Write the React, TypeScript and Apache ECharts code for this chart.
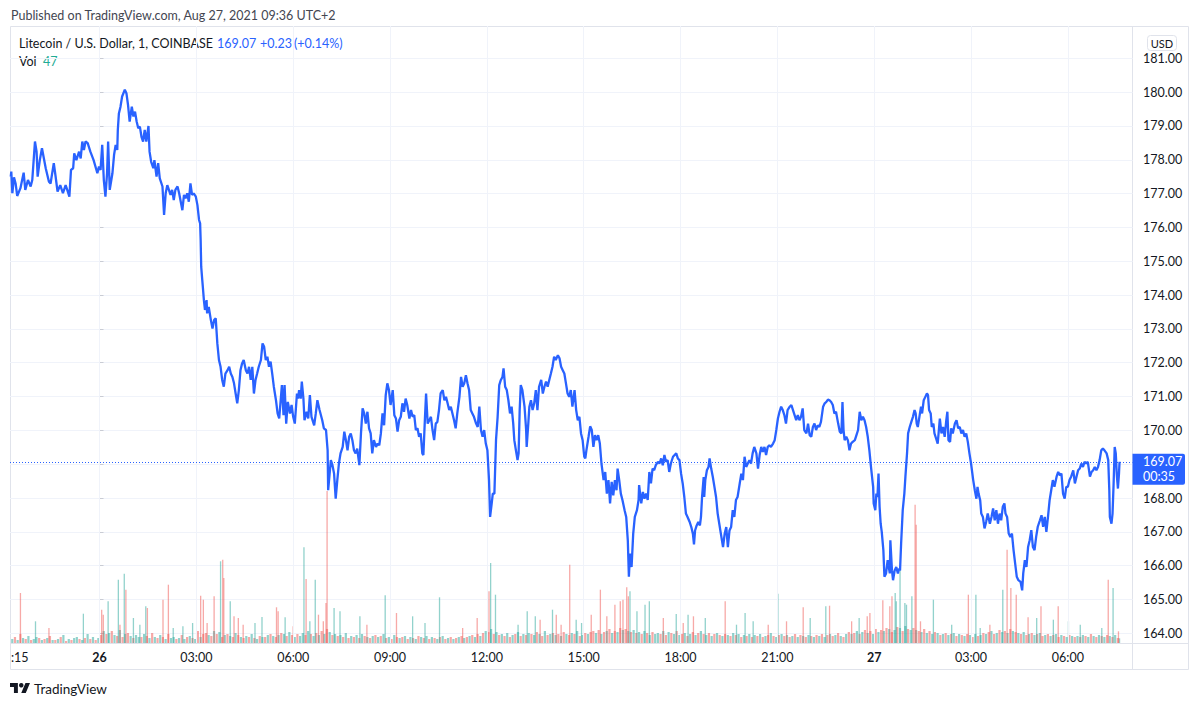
import React, { useEffect, useRef } from "react";
import * as echarts from "echarts";

const FONT = "Lato, 'Noto Sans', sans-serif";

// Litecoin / USD, 1-minute closes. [minutes from 26 Aug 00:00 UTC, price in USD]
const pricePoints: [number, number][] = [
  [-165, 177.5], [-164, 177.65], [-162, 177.01], [-159, 177.48], [-156, 177.3], [-153, 176.93], [-147, 177.16], [-141, 177.62],
  [-138, 177.11], [-133, 177.4], [-128, 177.21], [-125, 177.4], [-120, 178.54], [-117, 178.24], [-115, 177.5], [-111, 177.99],
  [-107, 178.34], [-100, 177.75], [-94, 177.35], [-91, 177.3], [-85, 177.9], [-82, 177.55], [-78, 177.06], [-73, 177.25],
  [-68, 177.01], [-63, 177.25], [-60, 177.11], [-56, 176.91], [-53, 177.7], [-49, 177.75], [-47, 178.19], [-43, 177.99],
  [-38, 178.24], [-35, 178.04], [-32, 178.54], [-29, 178.29], [-26, 178.54], [-22, 178.49], [-17, 178.24], [-11, 177.99],
  [-4, 177.6], [-1, 177.8], [2, 177.7], [5, 178.44], [8, 177.4], [11, 176.91], [14, 177.6], [16, 178.54],
  [19, 177.11], [24, 177.6], [27, 178.14], [30, 178.44], [33, 178.29], [34, 178.88], [36, 179.37], [39, 179.57],
  [42, 179.87], [47, 180.07], [50, 179.97], [53, 179.62], [56, 179.13], [60, 179.57], [63, 179.28], [66, 179.42],
  [69, 179.13], [72, 178.93], [75, 178.98], [78, 178.68], [81, 178.54], [84, 178.88], [87, 178.54], [91, 179.0],
  [93, 178.24], [96, 177.94], [100, 177.75], [102, 177.99], [106, 177.5], [109, 177.9], [112, 177.45], [117, 177.21],
  [120, 176.37], [123, 177.01], [126, 177.25], [129, 177.11], [132, 176.96], [135, 177.11], [138, 176.81], [141, 177.11],
  [145, 177.21], [148, 177.01], [154, 176.51], [157, 176.96], [160, 176.86], [163, 177.01], [166, 176.76], [169, 177.3],
  [172, 176.96], [175, 177.01], [179, 176.91], [182, 176.66], [185, 176.22], [187, 176.12], [188, 175.63], [189, 174.84],
  [191, 174.44], [192, 174.25], [194, 173.85], [196, 173.56], [199, 173.85], [200, 173.46], [203, 173.65], [207, 173.26],
  [210, 173.01], [213, 173.26], [216, 173.31], [219, 172.57], [222, 172.08], [225, 171.88], [228, 171.49], [231, 171.29],
  [234, 171.68], [238, 171.78], [241, 171.88], [244, 171.68], [247, 171.58], [250, 171.39], [253, 171.09], [256, 170.8],
  [259, 171.19], [262, 171.78], [265, 171.98], [268, 172.08], [272, 171.78], [275, 171.68], [278, 171.88], [281, 171.49],
  [284, 171.88], [287, 171.09], [290, 171.49], [293, 171.68], [296, 171.88], [300, 172.08], [303, 172.57], [306, 172.47],
  [309, 172.08], [312, 172.18], [315, 171.88], [318, 172.03], [321, 171.68], [324, 171.29], [328, 170.89], [331, 170.5],
  [334, 170.35], [339, 171.34], [342, 170.45], [344, 171.34], [347, 170.2], [350, 170.84], [354, 170.5], [357, 170.75],
  [360, 170.4], [363, 170.2], [367, 171.09], [369, 170.94], [371, 171.19], [374, 170.94], [376, 171.44], [379, 170.94],
  [381, 170.3], [385, 170.55], [388, 170.35], [391, 171.04], [394, 170.4], [399, 170.15], [402, 170.5], [405, 170.89],
  [409, 170.6], [414, 170.3], [417, 170.06], [421, 170.01], [424, 169.41], [425, 168.23], [430, 169.12], [433, 168.97],
  [436, 168.72], [439, 167.98], [442, 168.53], [445, 169.02], [448, 169.32], [452, 169.51], [455, 169.96], [458, 169.71],
  [461, 169.41], [464, 169.81], [467, 169.91], [470, 169.71], [473, 169.41], [476, 169.32], [479, 169.46], [483, 168.97],
  [486, 169.91], [489, 170.65], [492, 170.5], [495, 170.2], [498, 170.55], [501, 170.06], [504, 169.91], [507, 169.32],
  [510, 169.71], [514, 169.51], [517, 169.61], [520, 169.56], [523, 169.91], [526, 170.5], [529, 170.15], [532, 171.04],
  [535, 171.39], [538, 171.19], [541, 170.75], [545, 171.19], [548, 170.45], [551, 170.35], [554, 169.96], [557, 170.3],
  [560, 170.4], [563, 170.8], [566, 170.55], [569, 170.94], [572, 170.75], [576, 170.35], [579, 170.6], [582, 170.4],
  [585, 170.45], [588, 170.01], [591, 170.06], [594, 169.81], [597, 169.91], [600, 169.32], [602, 169.27], [605, 170.4],
  [607, 171.09], [610, 170.2], [613, 170.3], [616, 170.4], [619, 170.01], [622, 169.71], [625, 170.2], [628, 170.25],
  [631, 170.6], [634, 171.09], [638, 171.19], [641, 170.89], [644, 170.99], [647, 170.8], [650, 170.6], [653, 170.7],
  [656, 170.5], [659, 170.3], [662, 170.06], [665, 170.5], [669, 170.99], [672, 171.58], [675, 171.29], [678, 171.39],
  [681, 171.63], [684, 171.39], [687, 171.19], [690, 170.6], [693, 170.5], [696, 170.4], [700, 170.2], [703, 170.1],
  [706, 170.7], [709, 170.01], [712, 169.81], [715, 170.01], [718, 169.61], [721, 169.41], [724, 168.53], [726, 167.44],
  [729, 167.84], [731, 168.13], [734, 168.13], [737, 169.71], [740, 170.4], [743, 171.34], [746, 171.49], [749, 171.58],
  [751, 171.83], [754, 171.29], [757, 171.19], [760, 170.89], [763, 170.5], [766, 170.7], [769, 170.2], [771, 169.71],
  [774, 169.41], [777, 169.12], [779, 169.32], [781, 170.6], [783, 171.34], [786, 171.19], [790, 170.7], [793, 170.01],
  [794, 169.51], [797, 170.2], [799, 170.7], [802, 170.89], [805, 170.6], [808, 170.8], [811, 171.19], [814, 170.6],
  [817, 171.29], [821, 171.49], [824, 171.09], [827, 171.29], [830, 171.44], [833, 171.29], [836, 171.49], [839, 171.68],
  [842, 171.88], [845, 172.18], [848, 172.08], [852, 172.22], [855, 172.13], [858, 171.88], [861, 171.78], [864, 171.68],
  [867, 171.39], [870, 171.09], [873, 170.99], [876, 171.19], [879, 170.7], [883, 171.19], [886, 170.6], [889, 170.3],
  [892, 170.4], [895, 169.91], [898, 169.71], [901, 169.22], [903, 169.17], [905, 169.41], [909, 169.81], [912, 170.12],
  [915, 170.01], [918, 169.51], [921, 169.86], [924, 169.71], [927, 169.86], [930, 169.61], [933, 169.02], [937, 168.53],
  [940, 168.77], [943, 168.13], [946, 168.53], [949, 167.84], [952, 168.48], [955, 168.08], [958, 168.53], [961, 168.23],
  [963, 168.87], [966, 168.53], [969, 168.13], [972, 167.94], [976, 167.64], [979, 167.44], [982, 166.74], [984, 165.67],
  [986, 166.36], [989, 165.96], [992, 166.94], [995, 167.44], [999, 167.64], [1002, 167.94], [1003, 168.38], [1007, 167.84],
  [1010, 168.18], [1013, 167.98], [1016, 168.13], [1019, 167.94], [1022, 168.77], [1025, 168.43], [1028, 168.87], [1031, 168.82],
  [1034, 168.97], [1038, 169.07], [1041, 169.02], [1044, 169.17], [1047, 168.97], [1050, 169.27], [1053, 169.07], [1056, 169.12],
  [1059, 168.77], [1062, 169.02], [1066, 169.22], [1069, 169.27], [1072, 169.32], [1075, 169.17], [1078, 169.12], [1081, 168.72],
  [1084, 168.43], [1087, 168.03], [1090, 167.54], [1093, 167.44], [1097, 167.29], [1100, 167.14], [1103, 166.94], [1105, 166.63],
  [1107, 167.04], [1110, 167.19], [1113, 167.29], [1116, 167.19], [1118, 167.44], [1120, 168.03], [1123, 168.62], [1124, 168.03],
  [1126, 168.53], [1129, 168.82], [1132, 168.92], [1134, 169.17], [1137, 168.87], [1140, 168.62], [1143, 168.33], [1146, 168.03],
  [1149, 167.54], [1152, 167.24], [1155, 166.94], [1159, 166.55], [1162, 166.94], [1165, 167.14], [1168, 166.55], [1171, 167.04],
  [1174, 167.14], [1177, 167.64], [1180, 167.44], [1183, 167.94], [1186, 168.03], [1190, 168.43], [1193, 168.72], [1196, 168.53],
  [1199, 169.22], [1202, 168.92], [1205, 169.02], [1208, 169.12], [1211, 169.02], [1214, 169.32], [1217, 169.51], [1221, 169.32],
  [1224, 168.87], [1227, 169.27], [1230, 169.51], [1233, 169.36], [1236, 169.51], [1239, 169.27], [1242, 169.51], [1245, 169.56],
  [1248, 169.51], [1252, 169.61], [1255, 169.71], [1258, 170.01], [1261, 170.35], [1264, 170.55], [1267, 170.7], [1270, 170.6],
  [1273, 170.45], [1276, 170.2], [1279, 170.6], [1283, 170.7], [1286, 170.75], [1289, 170.6], [1292, 170.45], [1295, 170.3],
  [1298, 170.45], [1301, 170.3], [1304, 170.4], [1307, 170.65], [1310, 170.01], [1314, 169.91], [1317, 170.2], [1320, 169.86],
  [1323, 169.81], [1326, 170.1], [1329, 170.2], [1332, 170.01], [1335, 170.15], [1338, 170.1], [1341, 170.25], [1345, 170.7],
  [1348, 170.8], [1351, 170.84], [1354, 170.91], [1357, 170.89], [1360, 170.84], [1363, 170.75], [1366, 170.5], [1369, 170.55],
  [1373, 170.2], [1376, 169.96], [1379, 169.91], [1381, 170.84], [1383, 170.01], [1385, 169.71], [1388, 169.81], [1391, 169.71],
  [1394, 169.41], [1397, 169.61], [1400, 169.66], [1404, 169.71], [1407, 169.86], [1410, 170.01], [1413, 170.55], [1416, 170.3],
  [1419, 170.4], [1422, 170.3], [1425, 170.1], [1428, 169.81], [1431, 169.41], [1434, 168.92], [1438, 168.33], [1439, 167.84],
  [1442, 167.64], [1444, 168.13], [1446, 168.03], [1448, 168.72], [1450, 167.74], [1452, 167.24], [1454, 167.0], [1457, 166.46],
  [1459, 165.67], [1462, 165.77], [1465, 166.16], [1469, 165.77], [1470, 166.75], [1473, 165.86], [1475, 165.57], [1478, 165.86],
  [1481, 165.96], [1484, 165.77], [1486, 165.91], [1488, 165.86], [1490, 166.65], [1493, 167.64], [1496, 168.13], [1498, 168.63],
  [1501, 169.32], [1503, 169.91], [1506, 170.1], [1509, 170.25], [1512, 170.4], [1515, 170.6], [1517, 170.5], [1519, 170.2],
  [1521, 170.1], [1524, 170.4], [1527, 170.7], [1529, 170.5], [1532, 170.89], [1535, 170.99], [1538, 171.09], [1540, 171.04],
  [1542, 170.6], [1545, 170.5], [1547, 170.1], [1550, 170.2], [1552, 169.91], [1555, 169.76], [1558, 169.61], [1562, 170.35],
  [1565, 169.91], [1568, 170.1], [1571, 169.81], [1574, 170.3], [1576, 170.55], [1578, 169.71], [1581, 169.66], [1583, 170.06],
  [1586, 169.91], [1590, 170.2], [1593, 170.3], [1596, 170.06], [1599, 170.1], [1602, 169.91], [1605, 170.01], [1608, 169.81],
  [1611, 169.91], [1614, 169.66], [1617, 169.32], [1620, 169.02], [1624, 168.53], [1627, 168.23], [1630, 167.98], [1632, 168.33],
  [1634, 168.13], [1637, 167.93], [1639, 167.54], [1642, 167.44], [1645, 167.1], [1648, 167.29], [1651, 167.54], [1655, 167.24],
  [1658, 167.44], [1661, 167.69], [1664, 167.34], [1667, 167.64], [1670, 167.24], [1673, 167.54], [1676, 167.34], [1679, 167.74],
  [1682, 167.84], [1684, 167.54], [1687, 167.44], [1690, 166.95], [1693, 166.85], [1696, 166.95], [1699, 166.46], [1702, 166.06],
  [1705, 165.67], [1708, 165.57], [1712, 165.52], [1715, 165.27], [1717, 165.77], [1720, 166.16], [1723, 165.96], [1726, 166.55],
  [1729, 166.75], [1732, 167.05], [1735, 166.55], [1738, 166.46], [1741, 166.85], [1744, 167.15], [1748, 167.34], [1751, 167.49],
  [1754, 167.15], [1757, 167.44], [1760, 167.0], [1763, 167.44], [1766, 167.93], [1769, 168.23], [1772, 168.53], [1775, 168.33],
  [1779, 168.63], [1782, 168.77], [1785, 168.67], [1788, 168.72], [1791, 168.13], [1794, 167.98], [1797, 168.33], [1800, 168.33],
  [1803, 168.53], [1806, 168.63], [1810, 168.82], [1813, 168.43], [1816, 168.63], [1819, 168.82], [1822, 168.87], [1825, 169.02],
  [1828, 168.92], [1831, 169.07], [1834, 169.02], [1837, 169.07], [1841, 168.63], [1844, 168.77], [1847, 168.82], [1850, 168.92],
  [1853, 168.82], [1856, 168.92], [1859, 169.12], [1862, 169.41], [1865, 169.46], [1868, 169.41], [1872, 169.32], [1875, 169.12],
  [1877, 168.23], [1878, 167.44], [1881, 167.24], [1883, 167.54], [1885, 168.43], [1887, 169.51], [1889, 169.32], [1891, 168.67],
  [1893, 168.28], [1895, 168.72], [1896, 169.07],
];

// Distinct volume bars: [minute, volume]; positive = up bar (teal), negative = down bar (red)
const volumeSpikes: [number, number][] = [
  [-147, -500], [-119, 217], [-94, -150], [-30, 293], [4, -333], [7, -283], [16, 417], [35, 633], [38, -183], [46, 693],
  [49, -533], [63, 250], [75, 183], [86, 367], [89, -350], [118, -433], [128, -583], [137, 150], [155, 167], [173, 200],
  [188, -473], [193, -433], [200, -200], [213, -467], [225, 817], [229, -833], [231, -650], [243, 417], [250, -267], [258, -250],
  [267, -183], [289, 200], [302, 260], [329, -357], [332, -317], [345, 257], [360, -167], [380, 957], [384, -640], [391, 217],
  [401, 633], [407, -283], [416, -217], [421, -400], [423, -1520], [436, 350], [447, 317], [484, 267], [497, -183], [531, 477],
  [552, -300], [582, 267], [605, 200], [632, 457], [675, -150], [702, -250], [724, -517], [727, 800], [736, 483], [778, 183],
  [795, 317], [810, 267], [819, -233], [842, 333], [849, -283], [858, -183], [874, -783], [886, 233], [896, 200], [914, -283],
  [931, -533], [943, -267], [958, -383], [968, -417], [973, -433], [980, -557], [983, -467], [986, 517], [999, 317], [1014, 383],
  [1022, 417], [1048, -250], [1072, 290], [1085, -200], [1094, 283], [1104, -267], [1126, 250], [1163, -417], [1184, 183], [1200, 300],
  [1215, 217], [1243, -183], [1261, 493], [1277, -217], [1308, -357], [1321, 250], [1350, 367], [1357, -373], [1398, -217], [1412, 250],
  [1427, -267], [1432, -300], [1456, -427], [1469, -367], [1473, -467], [1479, 500], [1481, 417], [1488, 733], [1497, 400], [1500, 383],
  [1510, 467], [1516, -1383], [1518, -1183], [1526, -217], [1550, 433], [1584, 183], [1615, -483], [1629, 483], [1637, 150], [1655, -183],
  [1679, 533], [1687, -933], [1694, -550], [1704, -483], [1726, -257], [1742, 250], [1750, -367], [1773, 233], [1782, -367], [1801, 217],
  [1823, 183], [1863, 150], [1875, -633], [1884, 550], [1894, -117], [1896, 47],
];

// Background volume, one bar every 5 minutes from 21:17 (signed as above)
const grassStartMinute = -163;
const grassStepMinutes = 5;
const grassVolumes: number[] = [
  40, -60, 30, -90, 50, -40, 70, -30, 40, 60, -50, 30,
  -40, 50, -70, 30, -30, 40, -60, 80, -20, 40, -30, 50,
  60, -40, 30, -50, 90, -40, 60, -30, 50, -80, 120, -90,
  100, -120, 80, -70, 130, -60, 90, -100, 70, -50, 80, 60,
  -60, 90, -70, 50, -100, 60, -50, 80, -60, 40, -90, 50,
  60, -40, 50, -80, 40, -60, 70, -50, 40, -120, 60, -90,
  -100, 80, -70, 120, -90, 110, -60, 80, -90, 70, -60, 100,
  -80, 60, -50, 70, -60, 90, -50, 40, -70, 60, -60, 80,
  -90, 70, -60, 80, -100, 90, -70, 110, -80, 60, -90, 70,
  100, -80, 120, -90, 70, -100, 80, -120, 90, -140, 110, -80,
  90, -70, 80, -60, 100, -50, 70, -60, 80, -50, 90, -70,
  60, -50, 70, -80, 60, -70, 90, -50, 60, -40, 80, -60,
  50, -60, 70, -40, 60, -50, 40, -70, 60, -50, 70, -40,
  60, -50, 40, -60, 70, -40, 50, -60, 40, -50, 60, -70,
  50, -60, 70, -80, 60, -90, 70, -100, 120, -110, 140, -90,
  110, -80, 90, -70, 100, -60, 80, -90, 110, -70, 90, -80,
  100, -90, 80, -110, 90, -70, 120, -80, 90, -100, 80, -90,
  70, -110, 90, -80, 100, -90, 120, -70, 80, -100, 90, -110,
  -120, 100, -130, 90, -110, 120, -140, 100, -120, 110, -150, 130,
  -140, 120, -110, 130, -100, 110, -90, 120, -100, 80, -110, 90,
  100, -90, 120, -80, 110, -100, 90, -120, 80, -90, 100, -70,
  90, -110, 80, -100, 120, -90, 80, -100, 70, -90, 100, -80,
  70, -90, 80, -70, 100, -80, 90, -60, 80, -70, 90, -60,
  80, -70, 90, -60, 70, -80, 100, -70, 60, -80, 90, -70,
  80, -60, 70, -90, 60, -80, 70, -60, 80, -70, 60, -80,
  70, -90, 60, -80, 90, -70, 80, -100, 70, -60, 90, -110,
  90, -100, 120, -90, 110, -130, 100, -120, 90, -140, 110, -130,
  120, -150, 140, -110, 130, -160, 150, -120, 170, -140, 130, -150,
  130, -120, 110, -140, 100, -120, 90, -110, 100, -80, 90, -100,
  80, -90, 100, -70, 90, -80, 70, -90, 80, -60, 90, -70,
  80, -100, 90, -110, 120, -90, 100, -130, 110, -120, 100, -140,
  120, -110, 100, -90, 110, -80, 90, -100, 80, -90, 100, -70,
  80, -90, 70, -80, 90, -60, 80, -70, 60, -80, 70, -60,
  70, -60, 80, -70, 60, -90, 70, -60, 80, -70, 60, -80,
  70, -60, 80, -50,
];

const tickMinutes = [0, 180, 360, 540, 720, 900, 1080, 1260, 1440, 1620, 1800];
const tickLabels = ["26", "03:00", "06:00", "09:00", "12:00", "15:00", "18:00", "21:00", "27", "03:00", "06:00"];
const dayLabels = ["26", "27"];
const priceMin = 164;
const priceMax = 181;
const priceStep = 1;
const timeMin = -166.4;
const timeMax = 1920.1;
const volumeMax = 6170;
const lastPrice = 169.07;
const lastChange = "+0.23";
const lastChangePct = "(+0.14%)";
const countdown = "00:35";
const lastVolume = 47;

const BLUE = "#2962ff";
const TEXT = "#131722";
const GRID = "#f0f3fa";
const BORDER = "#e0e3eb";
const UP = "rgba(38,166,154,0.5)";
const DOWN = "rgba(239,83,80,0.5)";

let logoRegistered = false;
function registerLogo() {
  if (logoRegistered) return;
  echarts.graphic.registerShape(
    "tvlogo",
    echarts.graphic.extendPath("M14 22H7V11H0V4h14v18zM28 22h-8l7.5-18h8L28 22z", {}) as any
  );
  logoRegistered = true;
}

export default function App() {
  const ref = useRef<HTMLDivElement>(null);

  useEffect(() => {
    if (!ref.current) return;
    registerLogo();
    const chart = echarts.init(ref.current, undefined, { renderer: "svg" });

    const grass: [number, number][] = grassVolumes.map(
      (v, i) => [grassStartMinute + i * grassStepMinutes, v] as [number, number]
    );
    const ups = (arr: [number, number][]) => arr.filter((d) => d[1] > 0).map((d) => [d[0], d[1]]);
    const downs = (arr: [number, number][]) => arr.filter((d) => d[1] < 0).map((d) => [d[0], -d[1]]);

    const txt = (id: string, x: number, y: number, text: string, fill: string, size = 12.5, extra: any = {}) => ({
      id,
      type: "text",
      x,
      y,
      silent: true,
      style: { text, fill, fontSize: size, fontFamily: FONT, verticalAlign: "middle", align: "left", ...extra },
    });

    const graphics: any[] = [
      txt("hdr", 11, 15.5, "Published on TradingView.com, Aug 27, 2021 09:36 UTC+2", "#434651", 12.5),
      {
        id: "frame",
        type: "rect",
        silent: true,
        shape: { x: 10.5, y: 26.5, width: 1178, height: 643 },
        style: { fill: "none", stroke: BORDER, lineWidth: 1 },
      },
      {
        id: "sepV",
        type: "line",
        silent: true,
        shape: { x1: 1132.5, y1: 26.5, x2: 1132.5, y2: 669.5 },
        style: { stroke: BORDER, lineWidth: 1 },
      },
      {
        id: "sepH",
        type: "line",
        silent: true,
        shape: { x1: 10.5, y1: 643.5, x2: 1188.5, y2: 643.5 },
        style: { stroke: BORDER, lineWidth: 1 },
      },
      txt("leg1", 19, 43.5, "Litecoin / U.S. Dollar, 1, COINBASE", TEXT, 12.5),
      txt("leg2", 217, 43.5, lastPrice.toFixed(2), BLUE, 12.5),
      txt("leg3", 260, 43.5, lastChange, BLUE, 12.5),
      txt("leg4", 294, 43.5, lastChangePct, BLUE, 12.5),
      txt("vol1", 19, 61, "Vol", TEXT, 12.5),
      txt("vol2", 43, 61, String(lastVolume), "#22ab94", 12.5),
      txt("cut", 11, 657, ":15", TEXT, 12.5),
      {
        id: "usdBox",
        type: "rect",
        silent: true,
        shape: { x: 1147.5, y: 35.5, width: 29, height: 15, r: 3 },
        style: { fill: "#ffffff", stroke: BORDER, lineWidth: 1 },
      },
      txt("usd", 1162, 43.5, "USD", TEXT, 11, { align: "center" }),
      {
        id: "logo",
        type: "tvlogo",
        x: 10,
        y: 680.7,
        scaleX: 0.563,
        scaleY: 0.563,
        silent: true,
        style: { fill: TEXT },
      },
      {
        id: "logoDot",
        type: "circle",
        silent: true,
        shape: { cx: 10 + 20 * 0.563, cy: 680.7 + 8 * 0.563, r: 4 * 0.563 },
        style: { fill: TEXT },
      },
      txt("tv", 34, 688.5, "TradingView", TEXT, 13.5),
    ];

    const barSeries = (name: string, data: number[][], color: string, width: number) => ({
      type: "bar",
      name,
      xAxisIndex: 1,
      yAxisIndex: 1,
      data,
      barWidth: width,
      barGap: "-100%",
      itemStyle: { color },
      silent: true,
      z: 1,
    });

    const option: any = {
      animation: false,
      backgroundColor: "#ffffff",
      textStyle: { fontFamily: FONT },
      grid: [
        { left: 10, right: 67.5, top: 58.3, bottom: 72.7, containLabel: false },
        { left: 10, right: 67.5, top: 26, bottom: 63, containLabel: false },
      ],
      xAxis: [
        { gridIndex: 0, type: "value", min: timeMin, max: timeMax, show: false },
        {
          gridIndex: 1,
          type: "value",
          min: timeMin,
          max: timeMax,
          axisLine: { show: false },
          axisTick: { show: false },
          splitLine: { show: false },
          axisLabel: {
            customValues: tickMinutes,
            margin: 8,
            color: TEXT,
            fontSize: 12.5,
            fontFamily: FONT,
            showMinLabel: true,
            showMaxLabel: true,
            hideOverlap: false,
            formatter: (v: number) => {
              const i = tickMinutes.indexOf(Math.round(v));
              if (i < 0) return "";
              const s = tickLabels[i];
              return dayLabels.indexOf(s) >= 0 ? "{d|" + s + "}" : s;
            },
            rich: { d: { fontWeight: "bold", fontSize: 12.5, color: TEXT, fontFamily: FONT } },
          },
        },
      ],
      yAxis: [
        {
          gridIndex: 0,
          type: "value",
          position: "right",
          min: priceMin,
          max: priceMax,
          interval: priceStep,
          axisLine: { show: false },
          axisTick: { show: true, length: 4, lineStyle: { color: "#c9ccd4" } },
          splitLine: { show: true, lineStyle: { color: GRID, width: 1 } },
          axisLabel: {
            margin: 10.5,
            align: "left",
            color: TEXT,
            fontSize: 12.5,
            fontFamily: FONT,
            formatter: (v: number) => v.toFixed(2),
          },
        },
        { gridIndex: 1, type: "value", min: 0, max: volumeMax, show: false },
      ],
      series: [
        {
          type: "line",
          xAxisIndex: 1,
          yAxisIndex: 1,
          data: [],
          z: 0,
          silent: true,
          markLine: {
            symbol: "none",
            silent: true,
            animation: false,
            label: { show: false },
            lineStyle: { color: GRID, width: 1, type: "solid" },
            data: tickMinutes.map((m) => ({ xAxis: m })),
          },
        },
        barSeries("grassUp", ups(grass), UP, 2.2),
        barSeries("grassDown", downs(grass), DOWN, 2.2),
        barSeries("spikeUp", ups(volumeSpikes), UP, 1.3),
        barSeries("spikeDown", downs(volumeSpikes), DOWN, 1.3),
        {
          type: "line",
          name: "price",
          xAxisIndex: 0,
          yAxisIndex: 0,
          data: pricePoints,
          showSymbol: false,
          symbol: "none",
          lineStyle: { color: BLUE, width: 2.3 },
          z: 5,
          silent: true,
          markLine: {
            symbol: "none",
            silent: true,
            animation: false,
            label: { show: false },
            lineStyle: { color: BLUE, width: 1, type: [1, 2] },
            data: [{ yAxis: lastPrice }],
          },
        },
      ],
      graphic: graphics,
    };

    chart.setOption(option);

    const yp = chart.convertToPixel({ yAxisIndex: 0 }, lastPrice) as number;
    chart.setOption({
      graphic: [
        {
          id: "plBox",
          type: "rect",
          silent: true,
          z: 10,
          shape: { x: 1132.5, y: yp - 8, width: 52.5, height: 31, r: [0, 2, 2, 0] },
          style: { fill: BLUE },
        },
        { ...txt("plPrice", 1143, yp, lastPrice.toFixed(2), "#ffffff", 12.5), z: 11 },
        { ...txt("plCount", 1143, yp + 15, countdown, "#ffffff", 12.5), z: 11 },
      ],
    });

    return () => chart.dispose();
  }, []);

  return (
    <div
      ref={ref}
      style={{ position: "absolute", left: 0, top: 0, width: 1200, height: 706, background: "#ffffff" }}
    />
  );
}
